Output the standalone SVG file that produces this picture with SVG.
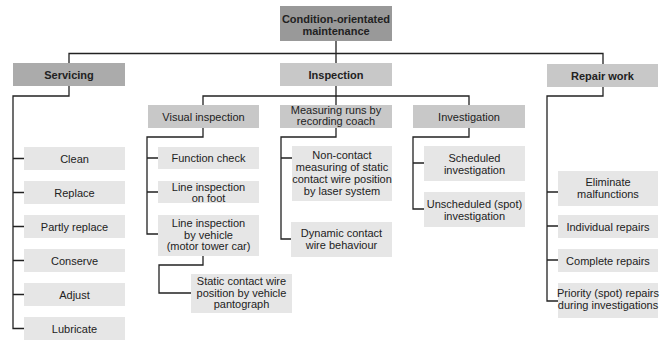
<svg xmlns="http://www.w3.org/2000/svg" width="671" height="340" viewBox="0 0 671 340">
<style>
text{font-family:"Liberation Sans",Arial,sans-serif;font-size:11px;fill:#222;text-anchor:middle}
.b{font-weight:bold}
.top{fill:#999}
.l1a{fill:#ababab}
.l1{fill:#c8c8c8}
.l2{fill:#c8c8c8}
.c{fill:#e6e6e6}
.conn path{fill:none;stroke:#222;stroke-width:1.3}
</style>
<rect width="671" height="340" fill="#fff"/>
<g class="conn" id="connectors">
<path d="M336,41V105M69,63V53.5H603V64"/>
<path d="M69,86V96H13V328.5H24M13,158.5H24M13,192.5H24M13,226.5H24M13,260.5H24M13,294.5H24"/>
<path d="M203,105V96H469V105"/>
<path d="M203,128V137H147V234H158M147,158H158M147,192H158"/>
<path d="M203,256V265H159V293H191"/>
<path d="M336,128V137H281V239H291M281,158H292"/>
<path d="M469,128V137H413V209H424M413,163H424"/>
<path d="M603,87V96H547V301H558M547,192H558M547,226H558M547,260H558"/>
</g>
<g id="n-root"><rect class="top" x="280" y="6" width="112" height="35"/><text class="b" x="336" y="23">Condition-orientated</text><text class="b" x="336" y="34.5">maintenance</text></g>
<g id="n-servicing"><rect class="l1a" x="13" y="63" width="112" height="23"/><text class="b" x="69" y="79">Servicing</text></g>
<g id="n-inspection"><rect class="l1" x="280" y="63" width="112" height="23"/><text class="b" x="336" y="79">Inspection</text></g>
<g id="n-repair"><rect class="l1" x="547" y="64" width="111" height="23"/><text class="b" x="602.5" y="80">Repair work</text></g>
<g id="n-clean"><rect class="c" x="24" y="147" width="101" height="23"/><text x="74.5" y="162.5">Clean</text></g>
<g id="n-replace"><rect class="c" x="24" y="181" width="101" height="23"/><text x="74.5" y="196.5">Replace</text></g>
<g id="n-partly"><rect class="c" x="24" y="215" width="101" height="23"/><text x="74.5" y="230.5">Partly replace</text></g>
<g id="n-conserve"><rect class="c" x="24" y="249" width="101" height="23"/><text x="74.5" y="264.5">Conserve</text></g>
<g id="n-adjust"><rect class="c" x="24" y="283" width="101" height="23"/><text x="74.5" y="298.5">Adjust</text></g>
<g id="n-lubricate"><rect class="c" x="24" y="317" width="101" height="23"/><text x="74.5" y="332.5">Lubricate</text></g>
<g id="n-visual"><rect class="l2" x="148" y="105" width="111" height="23"/><text x="203.5" y="120.5">Visual inspection</text></g>
<g id="n-measuring"><rect class="l2" x="280" y="105" width="112" height="23"/><text x="336" y="114">Measuring runs by</text><text x="336" y="125">recording coach</text></g>
<g id="n-investigation"><rect class="l2" x="413" y="105" width="112" height="23"/><text x="469" y="120.5">Investigation</text></g>
<g id="n-function"><rect class="c" x="158" y="147" width="101" height="22"/><text x="208.5" y="162">Function check</text></g>
<g id="n-foot"><rect class="c" x="158" y="181" width="101" height="22"/><text x="208.5" y="190.5">Line inspection</text><text x="208.5" y="202">on foot</text></g>
<g id="n-vehicle"><rect class="c" x="158" y="215" width="101" height="41"/><text x="208.5" y="227">Line inspection</text><text x="208.5" y="238.5">by vehicle</text><text x="208.5" y="250">(motor tower car)</text></g>
<g id="n-static"><rect class="c" x="191" y="274" width="101" height="39"/><text x="241.5" y="285">Static contact wire</text><text x="241.5" y="297">position by vehicle</text><text x="241.5" y="308">pantograph</text></g>
<g id="n-noncontact"><rect class="c" x="292" y="146" width="100" height="55"/><text x="342" y="159">Non-contact</text><text x="342" y="171">measuring of static</text><text x="342" y="183">contact wire position</text><text x="342" y="195">by laser system</text></g>
<g id="n-dynamic"><rect class="c" x="291" y="222" width="101" height="35"/><text x="341.5" y="237">Dynamic contact</text><text x="341.5" y="249">wire behaviour</text></g>
<g id="n-scheduled"><rect class="c" x="424" y="146" width="101" height="35"/><text x="474.5" y="162">Scheduled</text><text x="474.5" y="174">investigation</text></g>
<g id="n-unscheduled"><rect class="c" x="424" y="192" width="101" height="35"/><text x="474.5" y="208">Unscheduled (spot)</text><text x="474.5" y="219.5">investigation</text></g>
<g id="n-eliminate"><rect class="c" x="558" y="171" width="100" height="35"/><text x="608" y="186">Eliminate</text><text x="608" y="197.5">malfunctions</text></g>
<g id="n-individual"><rect class="c" x="558" y="215" width="100" height="23"/><text x="608" y="230.5">Individual repairs</text></g>
<g id="n-complete"><rect class="c" x="558" y="249" width="100" height="23"/><text x="608" y="264.5">Complete repairs</text></g>
<g id="n-priority"><rect class="c" x="558" y="283" width="100" height="35"/><text x="608" y="297">Priority (spot) repairs</text><text x="608" y="309">during investigations</text></g>
</svg>
